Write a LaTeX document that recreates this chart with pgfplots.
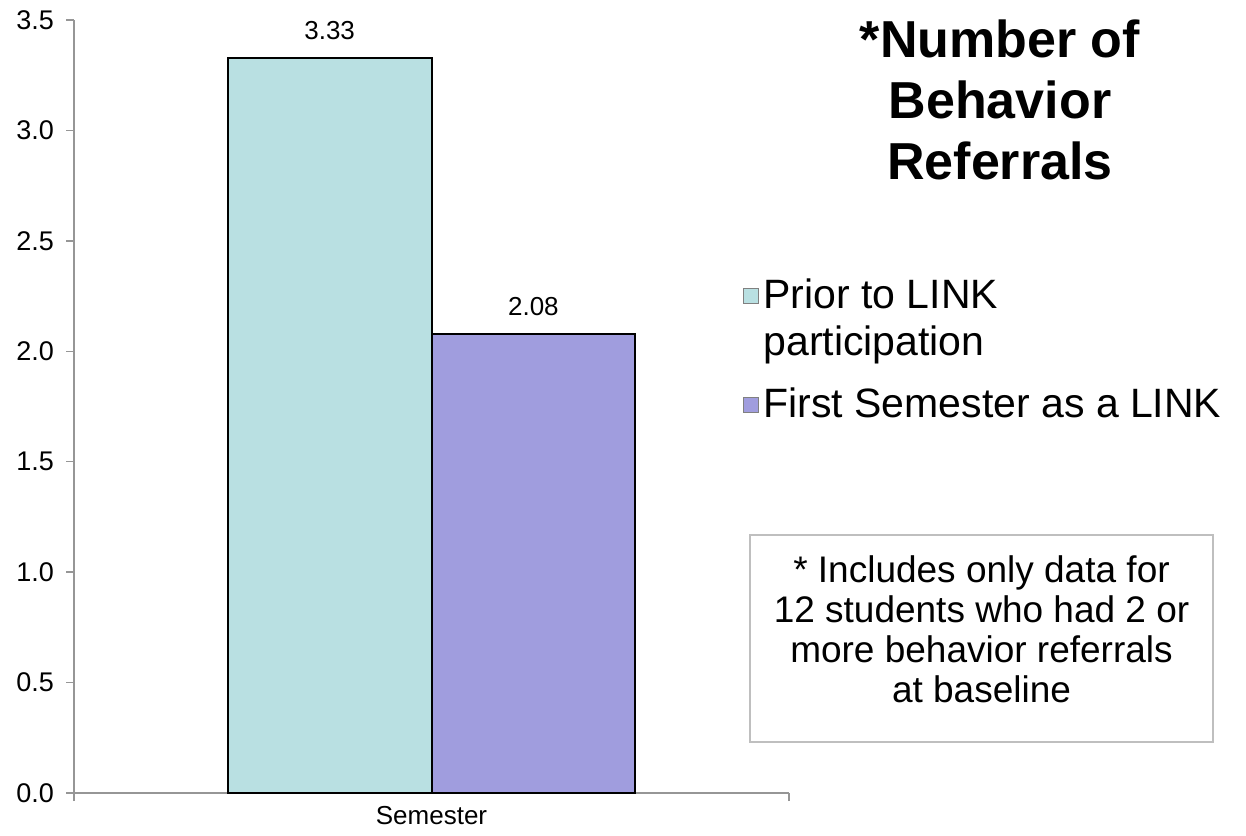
\documentclass[border=0pt]{standalone}
\usepackage{pgfplots}
\pgfplotsset{compat=1.18}
\usepackage{fontspec}
\setmainfont{Liberation Sans}
\definecolor{barA}{RGB}{185,224,226}
\definecolor{barB}{RGB}{160,157,222}
\definecolor{axgray}{RGB}{150,150,150}
\definecolor{boxgray}{RGB}{191,191,191}
\begin{document}
\begin{tikzpicture}
\useasboundingbox (0,0) rectangle (623pt,417.5pt);
\begin{axis}[
  at={(37pt,21pt)}, anchor=south west,
  scale only axis, width=357.5pt, height=386.5pt,
  xmin=-0.5, xmax=0.5, ymin=0, ymax=3.5,
  clip=false,
  axis lines*=left,
  axis line style={draw=axgray, line width=0.75pt},
  every tick/.style={draw=axgray, line width=0.75pt},
  tick align=outside, major tick length=4pt,
  xtick={-0.5,0.5}, xticklabels={},
  ytick={0,0.5,1,1.5,2,2.5,3,3.5},
  /pgf/number format/assume math mode=true,
  yticklabel style={font=\fontsize{13.5}{15}\selectfont, xshift=-2.5pt,
    /pgf/number format/fixed, /pgf/number format/fixed zerofill,
    /pgf/number format/precision=1},
  xlabel={Semester},
  xlabel style={at={(axis description cs:0.5,0)}, anchor=base, yshift=-15.5pt,
    font=\fontsize{13}{15}\selectfont},
  nodes near coords={\pgfmathprintnumber[fixed,fixed zerofill,precision=2]{\pgfplotspointmeta}},
  nodes near coords style={font=\fontsize{13}{15}\selectfont, anchor=base, yshift=9pt, inner sep=0pt},
]
\addplot[ybar, bar width=0.285, bar shift=-0.1425, fill=barA, draw=black, line width=1pt,
  every node near coord/.append style={xshift=-50.94pt}]
  coordinates {(0,3.33)};
\addplot[ybar, bar width=0.285, bar shift=0.1425, fill=barB, draw=black, line width=1pt,
  every node near coord/.append style={xshift=50.94pt}]
  coordinates {(0,2.08)};
\end{axis}
% title
\node[anchor=base, align=center, inner sep=0pt, font=\fontsize{26}{30.5}\selectfont\bfseries]
  at (500pt,327.5pt) {*Number of\\Behavior\\Referrals};
% legend
\draw[draw=gray, fill=barA, line width=0.5pt] (371.5pt,265.75pt) rectangle (379pt,273.25pt);
\node[anchor=base west, inner sep=0pt, font=\fontsize{20.5}{21}\selectfont] at (381.5pt,263pt) {Prior to LINK};
\node[anchor=base west, inner sep=0pt, font=\fontsize{20.5}{21}\selectfont] at (381.5pt,239.5pt) {participation};
\draw[draw=gray, fill=barB, line width=0.5pt] (371.5pt,211.25pt) rectangle (379pt,218.75pt);
\node[anchor=base west, inner sep=0pt, font=\fontsize{20.5}{21}\selectfont] at (381.5pt,208.5pt) {First Semester as a LINK};
% footnote box
\draw[draw=boxgray, line width=0.75pt] (375pt,46.5pt) rectangle (606.5pt,150pt);
\node[anchor=base, align=center, inner sep=0pt, font=\fontsize{18.5}{20}\selectfont]
  at (490.75pt,66.5pt) {* Includes only data for\\12 students who had 2 or\\more behavior referrals\\at baseline};
\end{tikzpicture}
\end{document}
